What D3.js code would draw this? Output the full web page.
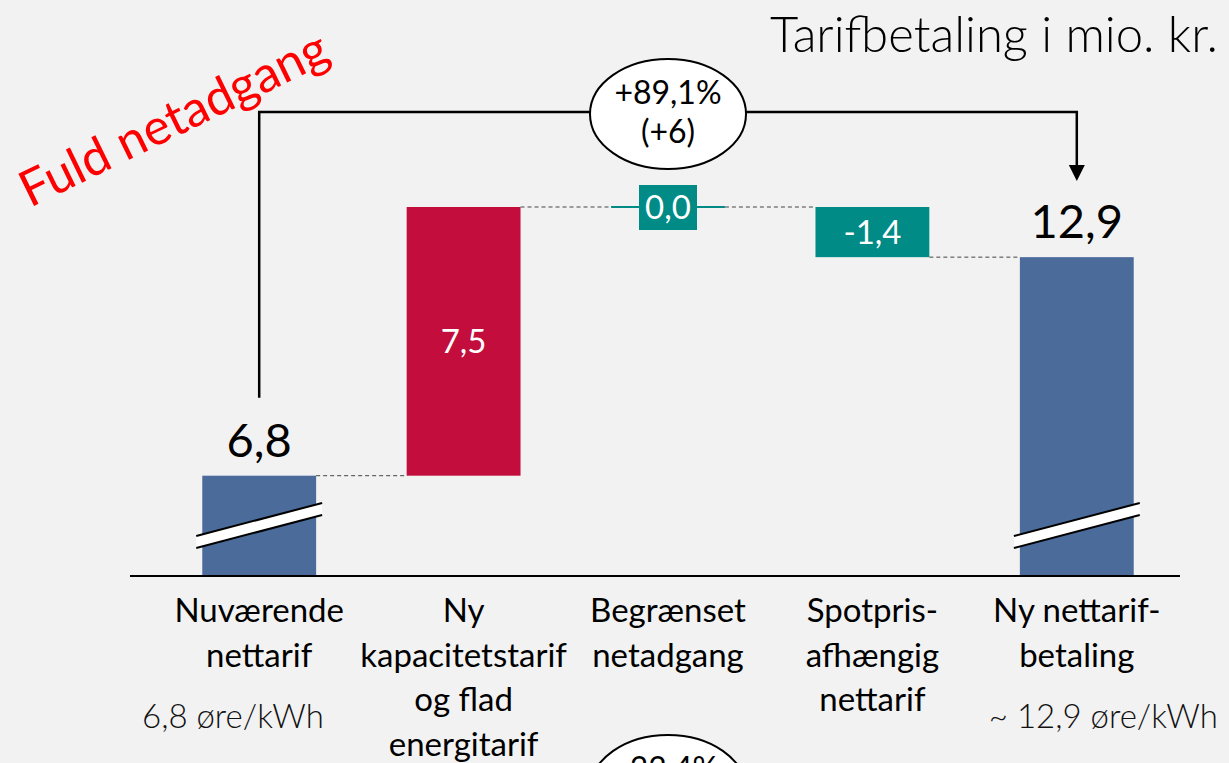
<!DOCTYPE html>
<html>
<head>
<meta charset="utf-8">
<script src="https://cdn.jsdelivr.net/npm/d3@7"></script>
<style>
  html, body { margin: 0; padding: 0; background: #f2f2f2; }
  svg { display: block; }
  text { font-family: Lato, "Open Sans", sans-serif; }
</style>
</head>
<body>
<svg width="1229" height="763"></svg>
<script>
// chart data
var categories = ["Nuværende|nettarif", "Ny|kapacitetstarif|og flad|energitarif", "Begrænset|netadgang", "Spotpris-|afhængig|nettarif", "Ny nettarif-|betaling"];
var values = [6.8, 7.5, 0.0, -1.4, 12.9];
var kinds = ["total", "delta", "delta", "delta", "total"];
var valueLabels = ["6,8", "7,5", "0,0", "-1,4", "12,9"];
var subLabels = ["6,8 øre/kWh", "", "", "", "~ 12,9 øre/kWh"];
var changeTop = ["+89,1%", "(+6)"];
var changeBottom = ["-33,4%", ""];

var colors = { total: "#4b6b9b", up: "#c30d3c", down: "#008b87" };

var svg = d3.select("svg");
var baseY = 576;

// running waterfall
var run = 0;
var bars = values.map(function (v, i) {
    var d = { cat: categories[i], kind: kinds[i], label: valueLabels[i], i: i };
    if (kinds[i] === "total") { d.y0 = 0; d.y1 = v; run = v; d.color = colors.total; }
    else { d.y0 = run; d.y1 = run + v; run = run + v; d.color = v > 0 ? colors.up : colors.down; }
    return d;
});

var x = d3.scaleBand().domain(categories).range([157, 1179]).paddingInner(0.443).paddingOuter(0.2215);
// broken axis: bottom of the plot is 4 rather than 0
var y = d3.scaleLinear().domain([4, 14.3]).range([baseY, 207]);
function yc(v) { return v < 4 ? baseY : y(v); }
function cx(d) { return x(d.cat) + x.bandwidth() / 2; }

// bars
svg.selectAll(".bar")
    .data(bars.filter(function (d) { return d.y0 !== d.y1; }))
    .enter().append("rect")
    .attr("class", "bar")
    .attr("x", function (d) { return x(d.cat); })
    .attr("width", x.bandwidth())
    .attr("y", function (d) { return yc(Math.max(d.y0, d.y1)); })
    .attr("height", function (d) { return yc(Math.min(d.y0, d.y1)) - yc(Math.max(d.y0, d.y1)); })
    .attr("fill", function (d) { return d.color; });

// zero-height change drawn as a line
svg.selectAll(".zero")
    .data(bars.filter(function (d) { return d.y0 === d.y1; }))
    .enter().append("line")
    .attr("x1", function (d) { return x(d.cat); })
    .attr("x2", function (d) { return x(d.cat) + x.bandwidth(); })
    .attr("y1", function (d) { return y(d.y1); })
    .attr("y2", function (d) { return y(d.y1); })
    .attr("stroke", colors.down).attr("stroke-width", 2);

// dashed connectors
svg.selectAll(".conn")
    .data(bars.slice(0, -1))
    .enter().append("line")
    .attr("x1", function (d) { return x(d.cat) + x.bandwidth(); })
    .attr("x2", function (d) { return x(categories[d.i + 1]); })
    .attr("y1", function (d) { return y(d.y1); })
    .attr("y2", function (d) { return y(d.y1); })
    .attr("stroke", "#444").attr("stroke-width", 1).attr("stroke-dasharray", "4,3");

// axis break marks on the totals
bars.filter(function (d) { return d.kind === "total"; }).forEach(function (d) {
    var l = x(d.cat) - 6, r = x(d.cat) + x.bandwidth() + 6;
    var ly = baseY - 40, ry = baseY - 73, t = 12;
    svg.append("polygon")
        .attr("points", [[l, ly], [r, ry], [r, ry + t], [l, ly + t]].join(" "))
        .attr("fill", "#fff");
    svg.append("line").attr("x1", l).attr("y1", ly).attr("x2", r).attr("y2", ry)
        .attr("stroke", "#000").attr("stroke-width", 2);
    svg.append("line").attr("x1", l).attr("y1", ly + t).attr("x2", r).attr("y2", ry + t)
        .attr("stroke", "#000").attr("stroke-width", 2);
});

// base line
svg.append("line").attr("x1", 130).attr("x2", 1180).attr("y1", baseY).attr("y2", baseY)
    .attr("stroke", "#000").attr("stroke-width", 2);

// value labels
bars.forEach(function (d) {
    if (d.kind === "total") {
        svg.append("text").attr("x", cx(d)).attr("y", y(d.y1) - 19)
            .attr("text-anchor", "middle").attr("font-size", 47).attr("fill", "#000")
            .text(d.label);
    } else if (d.y0 === d.y1) {
        svg.append("rect").attr("x", cx(d) - 29).attr("y", y(d.y1) - 22)
            .attr("width", 58).attr("height", 45).attr("fill", colors.down);
        svg.append("text").attr("x", cx(d)).attr("y", y(d.y1) + 12)
            .attr("text-anchor", "middle").attr("font-size", 33).attr("fill", "#fff")
            .text(d.label);
    } else {
        var mid = (y(d.y0) + y(d.y1)) / 2;
        svg.append("text").attr("x", cx(d)).attr("y", mid + 12)
            .attr("text-anchor", "middle").attr("font-size", 33).attr("fill", "#fff")
            .text(d.label);
    }
});

// category labels
bars.forEach(function (d) {
    var t = svg.append("text").attr("text-anchor", "middle").attr("font-size", 33).attr("fill", "#000");
    d.cat.split("|").forEach(function (line, k) {
        t.append("tspan").attr("x", cx(d)).attr("y", 622 + k * 44.5).text(line);
    });
});

// sub labels
svg.append("text").attr("x", 233).attr("y", 728).attr("text-anchor", "middle")
    .attr("font-size", 33).attr("font-weight", 300).attr("fill", "#111").text(subLabels[0]);
svg.append("text").attr("x", 1218).attr("y", 728).attr("text-anchor", "end")
    .attr("font-size", 33).attr("font-weight", 300).attr("fill", "#111").text(subLabels[4]);

// bracket with arrow
var bx0 = cx(bars[0]), bx1 = cx(bars[4]), by = 112;
svg.append("path")
    .attr("d", "M" + bx0 + "," + (y(bars[0].y1) - 78) + "V" + by + "H" + bx1 + "V" + 168)
    .attr("fill", "none").attr("stroke", "#000").attr("stroke-width", 2.5);
svg.append("path")
    .attr("d", "M" + (bx1 - 8) + ",165L" + (bx1 + 8) + ",165L" + bx1 + ",181Z")
    .attr("fill", "#000");

function bubble(cy, lines) {
    var mx = cx(bars[2]);
    svg.append("ellipse").attr("cx", mx).attr("cy", cy).attr("rx", 78).attr("ry", 55)
        .attr("fill", "#fff").attr("stroke", "#000").attr("stroke-width", 2);
    var t = svg.append("text").attr("text-anchor", "middle").attr("font-size", 32).attr("fill", "#000");
    lines.forEach(function (line, k) {
        t.append("tspan").attr("x", mx).attr("y", cy - 10 + k * 39).text(line);
    });
}
bubble(114, changeTop);
bubble(790, changeBottom);

// title
svg.append("text").attr("x", 1218).attr("y", 52).attr("text-anchor", "end")
    .attr("font-size", 49).attr("font-weight", 300).attr("fill", "#000")
    .text("Tarifbetaling i mio. kr.");

// red annotation
svg.append("text").attr("transform", "translate(30,208) rotate(-26)")
    .attr("font-size", 50).attr("fill", "#ff0000")
    .text("Fuld netadgang");
</script>
</body>
</html>
